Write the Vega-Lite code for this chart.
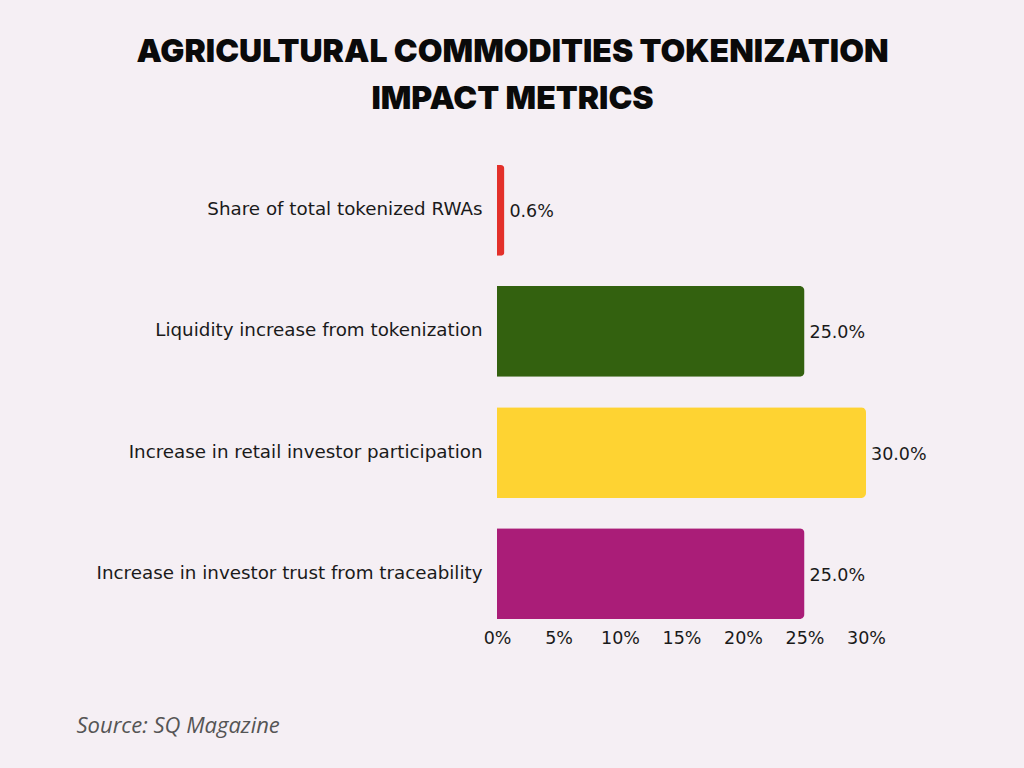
{
  "$schema": "https://vega.github.io/schema/vega-lite/v6.json",
  "autosize": "none",
  "width": 369,
  "height": 478,
  "padding": {"left": 497, "top": 153, "right": 158, "bottom": 137},
  "background": "#f5eff4",
  "title": {
    "text": ["AGRICULTURAL COMMODITIES TOKENIZATION", "IMPACT METRICS"],
    "font": "Inter",
    "fontWeight": 900,
    "fontSize": 32,
    "color": "#0a0a0a",
    "lineHeight": 47,
    "frame": "group",
    "anchor": "middle",
    "dx": -169,
    "offset": 37
  },
  "data": {
    "values": [
      {"metric": "Share of total tokenized RWAs", "value": 0.6, "color": "#e3302a"},
      {"metric": "Liquidity increase from tokenization", "value": 25.0, "color": "#33610f"},
      {"metric": "Increase in retail investor participation", "value": 30.0, "color": "#fed332"},
      {"metric": "Increase in investor trust from traceability", "value": 25.0, "color": "#aa1d78"}
    ]
  },
  "config": {
    "view": {"stroke": null},
    "font": "DejaVu Sans"
  },
  "encoding": {
    "y": {
      "field": "metric",
      "type": "nominal",
      "sort": null,
      "scale": {"paddingInner": 0.25, "paddingOuter": 0.1},
      "axis": {
        "title": null,
        "ticks": false,
        "domain": false,
        "labelFont": "DejaVu Sans",
        "labelFontSize": 18.3,
        "labelColor": "#1a1a1a",
        "labelPadding": 15,
        "labelLimit": 500
      }
    },
    "x": {
      "field": "value",
      "type": "quantitative",
      "scale": {"domain": [0, 30], "nice": false},
      "axis": {
        "title": "Source: SQ Magazine",
        "titleFont": "Open Sans",
        "titleFontStyle": "italic",
        "titleFontWeight": "normal",
        "titleFontSize": 22,
        "titleColor": "#555555",
        "titleX": -421,
        "titleY": 94,
        "titleAlign": "left",
        "titleBaseline": "middle",
        "values": [0, 5, 10, 15, 20, 25, 30],
        "labelExpr": "datum.value + '%'",
        "ticks": false,
        "domain": false,
        "grid": false,
        "labelFont": "DejaVu Sans",
        "labelFontSize": 17.5,
        "labelColor": "#1a1a1a",
        "labelPadding": -2,
        "labelFlush": false
      }
    }
  },
  "layer": [
    {
      "mark": {"type": "bar", "cornerRadiusEnd": 5},
      "encoding": {
        "color": {"field": "color", "type": "nominal", "scale": null, "legend": null}
      }
    },
    {
      "transform": [
        {"calculate": "format(datum.value, '.1f') + '%'", "as": "label"}
      ],
      "mark": {"type": "text", "align": "left", "dx": 5, "dy": 2, "font": "DejaVu Sans", "fontSize": 17.5, "color": "#1a1a1a", "baseline": "middle"},
      "encoding": {
        "text": {"field": "label", "type": "nominal"}
      }
    }
  ]
}
